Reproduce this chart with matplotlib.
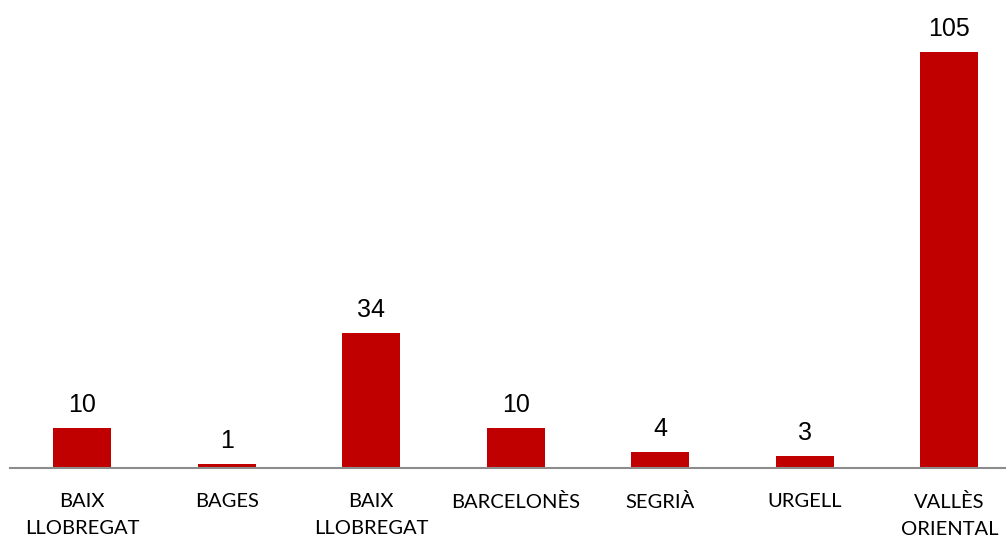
import matplotlib
matplotlib.use("Agg")
import matplotlib.pyplot as plt

categories = ["BAIX\nLLOBREGAT", "BAGES", "BAIX\nLLOBREGAT", "BARCELONÈS", "SEGRIÀ", "URGELL", "VALLÈS\nORIENTAL"]
values = [10, 1, 34, 10, 4, 3, 105]

W, H = 1006, 537
fig = plt.figure(figsize=(W / 100, H / 100), dpi=100)
# axes spans from x=10px, 144.5px per category
left = 10 / W
width = 144.5 * len(categories) / W
bottom = (H - 468) / H
ymax = 115
height = (416 / 105) * ymax / H
ax = fig.add_axes([left, bottom, width, height])

x = list(range(len(categories)))
bars = ax.bar(x, values, width=0.4, color="#C00000")
ax.set_xlim(-0.5, len(categories) - 0.5)
ax.set_ylim(0, ymax)

for xi, v in zip(x, values):
    ax.annotate(str(v), (xi, v), xytext=(0, 8), textcoords="offset points",
                ha="center", va="bottom", fontsize=18, family="Liberation Sans", color="#000000")

for s in ["top", "right", "left"]:
    ax.spines[s].set_visible(False)
ax.spines["bottom"].set_color("#8c8c8c")
ax.spines["bottom"].set_linewidth(1.5)
ax.set_yticks([])
ax.set_xticks(x)
ax.set_xticklabels(categories, fontsize=14.5, family="Lato", color="#000000", linespacing=1.7)
ax.tick_params(axis="x", length=0, pad=18)

fig.savefig("out.png", dpi=100)
